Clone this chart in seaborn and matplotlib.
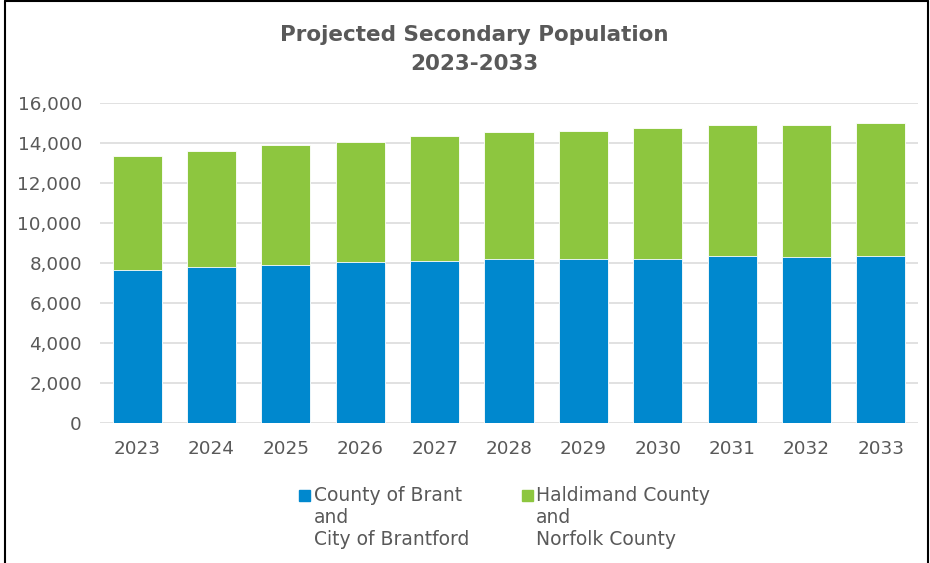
import numpy as np
import pandas as pd
import matplotlib.pyplot as plt
import seaborn as sns
from matplotlib.patches import Rectangle

# =========================================================
# DATA
# =========================================================
years = ["2023", "2024", "2025", "2026", "2027", "2028",
         "2029", "2030", "2031", "2032", "2033"]
brant = [7670, 7830, 7920, 8050, 8130, 8220, 8220, 8220, 8380, 8320, 8380]
haldimand = [5680, 5770, 6000, 6020, 6250, 6330, 6400, 6560, 6550, 6610, 6640]

BLUE = "#0088CE"
GREEN = "#8DC63F"
TEXT = "#595959"

df = pd.DataFrame({"year": years, "brant": brant, "haldimand": haldimand})
df["total"] = df["brant"] + df["haldimand"]

W, H = 930, 563

# =========================================================
# PLOT
# =========================================================
sns.set_theme(style="white")
plt.rcParams["font.family"] = ["DejaVu Sans"]

fig = plt.figure(figsize=(W / 100, H / 100), dpi=100)
ax = fig.add_axes([100 / W, 1 - 423.3 / H, 818 / W, 320 / H])

sns.barplot(data=df, x="year", y="total", color=GREEN, width=0.66,
            saturation=1, edgecolor="white", linewidth=0.6, ax=ax, zorder=2)
sns.barplot(data=df, x="year", y="brant", color=BLUE, width=0.66,
            saturation=1, edgecolor="white", linewidth=0.6, ax=ax, zorder=3)

ax.set_ylim(0, 16000)
ax.set_xlim(-0.5, len(years) - 0.5)
ax.set_yticks(np.arange(0, 16001, 2000))
ax.set_yticklabels([f"{v:,}" for v in range(0, 16001, 2000)])
ax.yaxis.grid(True, color="#D9D9D9", linewidth=1.1, zorder=0)
ax.set_axisbelow(True)
ax.set_xlabel("")
ax.set_ylabel("")
for s in ax.spines.values():
    s.set_visible(False)
ax.tick_params(axis="both", length=0, labelsize=13.2, colors=TEXT)
ax.tick_params(axis="y", pad=13)
ax.tick_params(axis="x", pad=12)

# title
fig.text(474 / W, 1 - 35 / H, "Projected Secondary Population",
         ha="center", va="center", fontsize=15.5, fontweight="bold", color=TEXT)
fig.text(474 / W, 1 - 64 / H, "2023-2033",
         ha="center", va="center", fontsize=15.5, fontweight="bold", color=TEXT)

# legend: square next to the first line of each 3-line label
legend_items = [
    (BLUE, 299, 314, ["County of Brant", "and", "City of Brantford"]),
    (GREEN, 522, 536, ["Haldimand County", "and", "Norfolk County"]),
]
for col, sq_x, tx_x, lines in legend_items:
    fig.add_artist(Rectangle((sq_x / W, 1 - 501 / H), 11 / W, 11 / H,
                             transform=fig.transFigure, color=col))
    for i, line in enumerate(lines):
        fig.text(tx_x / W, 1 - (500.7 + 22.3 * i) / H, line,
                 ha="left", va="baseline", fontsize=13.5, color=TEXT)

# outer frame
fig.add_artist(plt.Line2D([5 / W, 5 / W], [0, 1 - 1 / H], color="black", lw=1.5))
fig.add_artist(plt.Line2D([5 / W, 928 / W], [1 - 1 / H, 1 - 1 / H], color="black", lw=1.5))
fig.add_artist(plt.Line2D([928 / W, 928 / W], [0, 1 - 1 / H], color="black", lw=1.5))

fig.savefig("out.png", dpi=100)
